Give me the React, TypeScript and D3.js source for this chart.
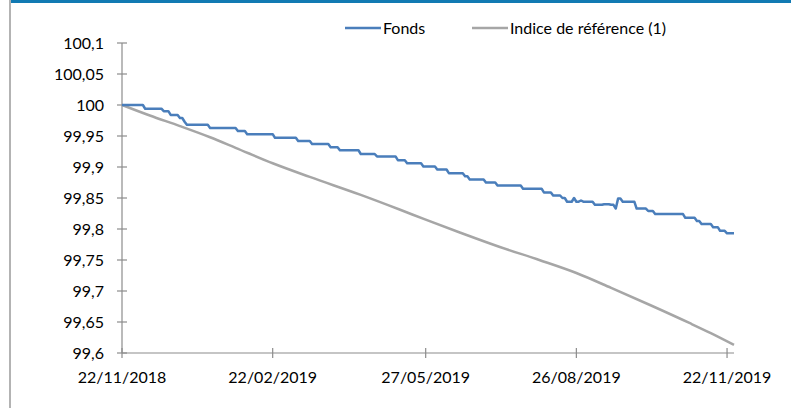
import React from 'react';
import * as d3 from 'd3';

// x labels of the category axis and where they sit (point index)
const tickLabels = ['22/11/2018', '22/02/2019', '27/05/2019', '26/08/2019', '22/11/2019'];
const tickIdx = [0, 65, 131, 196, 261];
const lastIdx = 264;

const yTicks = [99.6, 99.65, 99.7, 99.75, 99.8, 99.85, 99.9, 99.95, 100, 100.05, 100.1];

// Fonds: start index of each level and its value
const fondsStart = [0, 10, 18, 21, 25, 27, 28, 38, 50, 54, 66, 76, 82, 90, 94, 103, 110, 119, 123, 130,
  136, 141, 148, 150, 157, 162, 173, 182, 186, 190, 192, 195, 196, 198, 199, 204, 208, 211, 213, 214,
  216, 222, 227, 230, 243, 248, 250, 255, 258, 261];
const fondsVal = [100, 99.994, 99.99, 99.984, 99.979, 99.973, 99.968, 99.963, 99.958, 99.953, 99.947, 99.942,
  99.937, 99.932, 99.927, 99.921, 99.917, 99.911, 99.906, 99.901, 99.896, 99.89, 99.885, 99.88, 99.875,
  99.87, 99.865, 99.859, 99.854, 99.85, 99.844, 99.85, 99.844, 99.846, 99.844, 99.839, 99.84, 99.839,
  99.833, 99.849, 99.844, 99.833, 99.829, 99.824, 99.818, 99.813, 99.808, 99.803, 99.797, 99.793];

// Indice de référence (1)
const indiceIdx = [0, 12, 25, 38, 49, 65, 81, 103, 120, 131, 146, 163, 180, 196, 211, 228, 245, 254, 264];
const indiceVal = [100, 99.983, 99.966, 99.948, 99.931, 99.906, 99.884, 99.855, 99.831, 99.815, 99.794,
  99.771, 99.75, 99.729, 99.705, 99.677, 99.648, 99.632, 99.613];

const W = 791;
const H = 408;
const font = 'Lato, "Open Sans", sans-serif';

const fmt = (v: number) => String(+v.toFixed(2)).replace('.', ',');

export default function App() {
  const x = d3.scaleLinear().domain([0, lastIdx]).range([122, 734]);
  const y = d3.scaleLinear().domain([99.6, 100.1]).range([353, 43]);

  // each level drawn from its first to its last day
  const fondsPts: [number, number][] = [];
  fondsStart.forEach((s, i) => {
    const end = i < fondsStart.length - 1 ? fondsStart[i + 1] - 1 : lastIdx;
    fondsPts.push([s, fondsVal[i]]);
    if (end > s) fondsPts.push([end, fondsVal[i]]);
  });
  const indicePts: [number, number][] = indiceIdx.map((d, i) => [d, indiceVal[i]]);

  const line = d3.line<[number, number]>().x(d => x(d[0])).y(d => y(d[1]));
  const smooth = d3.line<[number, number]>().x(d => x(d[0])).y(d => y(d[1])).curve(d3.curveMonotoneX);

  const axisColor = '#8c8c8c';

  return (
    <svg width={W} height={H} style={{ position: 'absolute', left: 0, top: 0, background: '#fff' }}>
      <rect x={9} y={0} width={W - 9} height={3} fill="#117ab3" />
      <rect x={9} y={0} width={2} height={H} fill="#b3b3b3" />

      {/* y axis */}
      <line x1={x(0)} x2={x(0)} y1={y(100.1)} y2={y(99.6)} stroke={axisColor} strokeWidth={1.2} />
      {yTicks.map(t => (
        <g key={t}>
          <line x1={x(0) - 5} x2={x(0) + 5} y1={y(t)} y2={y(t)} stroke={axisColor} strokeWidth={1.2} />
          <text x={104} y={y(t)} dy="0.35em" textAnchor="end" fontFamily={font} fontSize={16} fill="#000">
            {fmt(t)}
          </text>
        </g>
      ))}

      {/* x axis */}
      <line x1={x(0)} x2={x(lastIdx)} y1={y(99.6)} y2={y(99.6)} stroke={axisColor} strokeWidth={1.2} />
      {tickIdx.map((t, i) => (
        <g key={t}>
          <line x1={x(t)} x2={x(t)} y1={y(99.6) - 5} y2={y(99.6) + 5} stroke={axisColor} strokeWidth={1.2} />
          <text x={x(t)} y={383} textAnchor="middle" fontFamily={font} fontSize={16} fill="#000">
            {tickLabels[i]}
          </text>
        </g>
      ))}

      <path d={smooth(indicePts) || ''} fill="none" stroke="#a6a6a6" strokeWidth={2.5} />
      <path d={line(fondsPts) || ''} fill="none" stroke="#4a7ebb" strokeWidth={2.5} strokeLinejoin="round" />

      {/* legend */}
      <line x1={345} x2={381} y1={28} y2={28} stroke="#4a7ebb" strokeWidth={2.5} />
      <text x={383} y={28} dy="0.35em" fontFamily={font} fontSize={16} fill="#000">Fonds</text>
      <line x1={472} x2={508} y1={28} y2={28} stroke="#a6a6a6" strokeWidth={2.5} />
      <text x={510} y={28} dy="0.35em" fontFamily={font} fontSize={16} fill="#000">Indice de référence (1)</text>
    </svg>
  );
}
